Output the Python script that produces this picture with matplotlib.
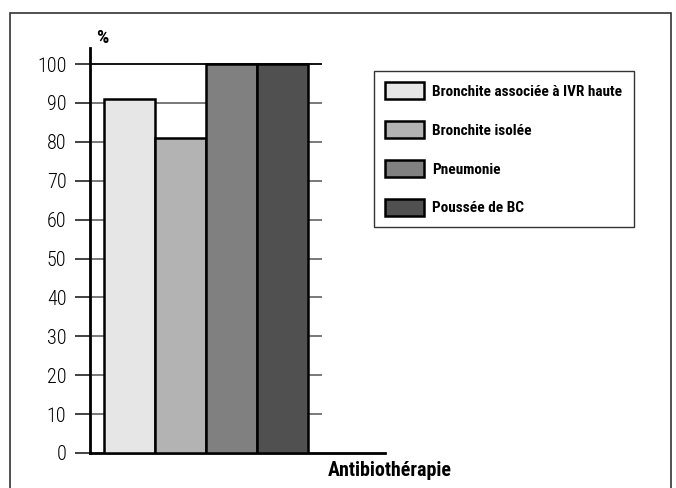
import matplotlib
matplotlib.use("Agg")
import matplotlib.pyplot as plt
from matplotlib.patches import Rectangle, Patch

categories = ["Bronchite associée à IVR haute", "Bronchite isolée", "Pneumonie", "Poussée de BC"]
values = [91, 81, 100, 100]
colors = ["#e6e6e6", "#b3b3b3", "#808080", "#505050"]
yticks = [0, 10, 20, 30, 40, 50, 60, 70, 80, 90, 100]
xlabel = "Antibiothérapie"
ylabel = "%"

NARROW = ["Roboto Condensed", "Archivo Narrow", "PT Sans Narrow", "IBM Plex Sans Condensed", "Open Sans Condensed", "DejaVu Sans"]

W, H = 676, 488
fig = plt.figure(figsize=(W / 100, H / 100), dpi=100)

# outer frame
fig.patches.append(Rectangle((10 / W, -0.01), 661 / W, (H - 13) / H + 0.01,
                             transform=fig.transFigure, fill=False,
                             edgecolor="#333333", linewidth=1.2))

ax_left, ax_right = 90, 385
y0_px, y100_px = 453, 64
ax_top_px = 48
ax = fig.add_axes([ax_left / W, (H - y0_px) / H, (ax_right - ax_left) / W,
                   (y0_px - ax_top_px) / H])

unit = 51.0
xmin = -0.5 - (104 - ax_left) / unit
xmax = xmin + (ax_right - ax_left) / unit
ymax = 100 * (y0_px - ax_top_px) / (y0_px - y100_px)
ax.set_xlim(xmin, xmax)
ax.set_ylim(0, ymax)

grid_end = -0.5 + (322 - 104) / unit
for t in yticks[1:]:
    ax.hlines(t, xmin, grid_end, colors="black" if t == 100 else "#6e6e6e",
              linewidth=1.3, zorder=1, clip_on=False)

xs = list(range(len(values)))
ax.bar(xs, values, width=1.0, color=colors, edgecolor="black", linewidth=1.8, zorder=3)

for s in ["top", "right"]:
    ax.spines[s].set_visible(False)
ax.spines["left"].set_linewidth(2)
ax.spines["bottom"].set_linewidth(2)
ax.spines["left"].set_zorder(4)
ax.set_xticks([])
ax.set_yticks(yticks)
ax.tick_params(axis="y", length=11, width=1.3, color="#333333", pad=6,
               labelsize=14.5)
for lab in ax.get_yticklabels():
    lab.set_fontfamily(NARROW)
    lab.set_fontweight("light")

fig.text(102 / W, (H - 38) / H, ylabel, fontsize=14, fontweight="bold",
         family=NARROW, ha="center", va="center")
fig.text(390 / W, (H - 471) / H, xlabel, fontsize=14.4, fontweight="bold",
         family=NARROW, ha="center", va="center")

handles = [Patch(facecolor=c, edgecolor="black", linewidth=1.8) for c in colors]
leg = fig.legend(handles, categories, loc="upper left",
                 bbox_to_anchor=(374 / W, (H - 71) / H),
                 frameon=True, fancybox=False, edgecolor="black",
                 prop={"family": NARROW, "weight": "bold", "size": 11.0},
                 handlelength=2.5, handleheight=1.3, labelspacing=1.45,
                 borderpad=0.75, handletextpad=0.55, borderaxespad=0)
leg.get_frame().set_linewidth(1.0)

fig.savefig("out.png", dpi=100)
